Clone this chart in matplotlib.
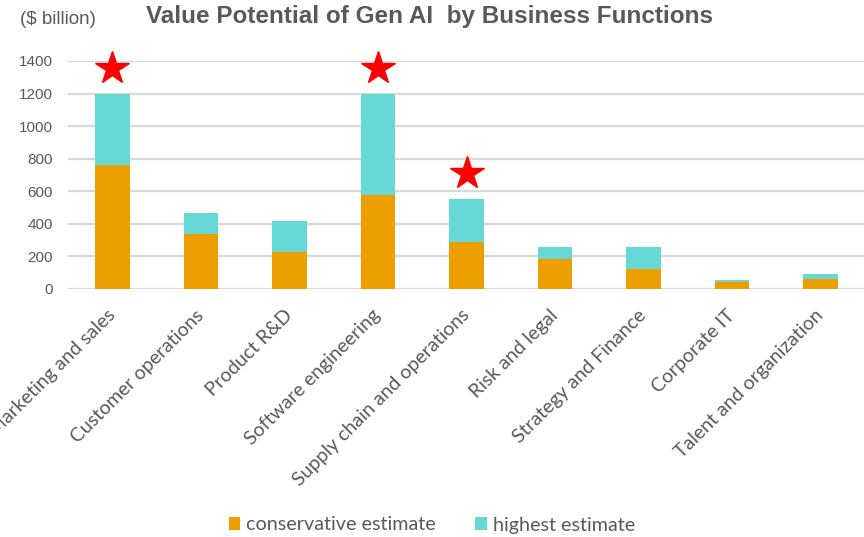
import matplotlib
matplotlib.use("Agg")
import matplotlib.pyplot as plt
import numpy as np

# values in $ billion
functions = ["Marketing and sales", "Customer operations", "Product R&D",
             "Software engineering", "Supply chain and operations", "Risk and legal",
             "Strategy and Finance", "Corporate IT", "Talent and organization"]
conservative = [760, 340, 230, 580, 290, 185, 120, 40, 60]
highest = [1200, 465, 420, 1200, 550, 260, 260, 55, 90]
starred = [0, 3, 4]
yticks = [0, 200, 400, 600, 800, 1000, 1200, 1400]

ORANGE = "#ED9F00"
CYAN = "#66D9D7"
GREY = "#595959"

fig = plt.figure(figsize=(8.64, 5.37), dpi=100)
ax = fig.add_axes([68 / 864, 1 - 289 / 537, (865 - 68) / 864, (289 - 61) / 537])

x = np.arange(len(functions))
extra = np.array(highest) - np.array(conservative)
ax.bar(x, conservative, width=0.39, color=ORANGE, label="conservative estimate", zorder=3)
ax.bar(x, extra, width=0.39, bottom=conservative, color=CYAN, label="highest estimate", zorder=3)

# red stars above the biggest opportunities
sx = [x[i] for i in starred]
sy = [highest[i] + 160 for i in starred]
ax.plot(sx, sy, marker="*", linestyle="none", color="red", markersize=25,
        clip_on=False, zorder=4)

ax.set_xlim(-0.5, len(functions) - 0.5)
ax.set_ylim(0, 1400)
ax.set_yticks(yticks)
ax.yaxis.grid(True, color="#D9D9D9", linewidth=1.6, zorder=0)
ax.set_axisbelow(True)
for s in ax.spines.values():
    s.set_visible(False)
ax.tick_params(axis="both", length=0)
ax.tick_params(axis="y", colors=GREY, labelsize=11, pad=11)
for lab in ax.get_yticklabels():
    lab.set_fontfamily("Liberation Sans")

ax.set_xticks(x)
ax.set_xticklabels(functions, rotation=45, ha="right", va="center",
                   rotation_mode="anchor", fontsize=14, color=GREY,
                   fontfamily="Lato")
ax.tick_params(axis="x", pad=17)

fig.text(20 / 864, 1 - 20 / 537, "($ billion)", fontsize=13.5, color=GREY,
         fontfamily="Liberation Sans", va="center", ha="left")
fig.text(430 / 864, 1 - 17 / 537, "Value Potential of Gen AI  by Business Functions",
         fontsize=17.5, fontweight="bold", color=GREY, fontfamily="Liberation Sans",
         va="center", ha="center")

leg = fig.legend(loc="center", bbox_to_anchor=(432 / 864, 1 - 525 / 537), ncol=2,
                 frameon=False, handlelength=0.6, handleheight=0.6, handletextpad=0.3,
                 columnspacing=2.0, prop={"family": "Lato", "size": 14.2})
for t in leg.get_texts():
    t.set_color(GREY)

fig.savefig("out.png", dpi=100)
